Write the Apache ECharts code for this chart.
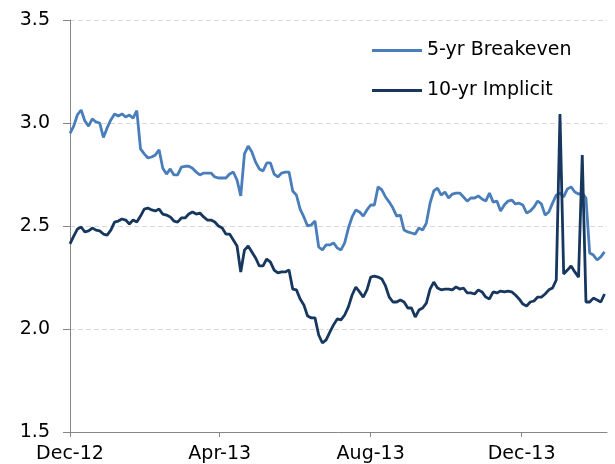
<!DOCTYPE html>
<html>
<head>
<meta charset="utf-8">
<script src="https://cdn.jsdelivr.net/npm/echarts@6/dist/echarts.min.js"></script>
<style>html,body{margin:0;padding:0;background:#fff}#c{width:615px;height:464px}</style>
</head>
<body>
<div id="c"></div>
<script>
// Observations every 3 days starting 1 Dec 2012
var startDate = [2012, 11, 1];
var stepDays = 3;
var seriesNames = ['5-yr Breakeven', '10-yr Implicit'];
var breakeven5 = [
2.95,2.985,3.04,3.063,3.01,2.985,3.02,3.005,3.0,2.93,
2.976,3.015,3.044,3.034,3.044,3.029,3.039,3.024,3.06,2.874,
2.85,2.83,2.835,2.845,2.87,2.78,2.752,2.777,2.748,2.748,
2.786,2.79,2.79,2.78,2.762,2.748,2.757,2.757,2.757,2.738,
2.733,2.733,2.733,2.752,2.762,2.723,2.646,2.85,2.888,2.859,
2.81,2.777,2.767,2.806,2.806,2.752,2.738,2.757,2.762,2.762,
2.67,2.65,2.582,2.544,2.5,2.505,2.524,2.398,2.384,2.408,
2.408,2.418,2.393,2.384,2.418,2.49,2.544,2.578,2.568,2.548,
2.578,2.602,2.602,2.69,2.675,2.641,2.616,2.587,2.548,2.553,
2.48,2.471,2.466,2.461,2.49,2.48,2.514,2.611,2.67,2.684,
2.65,2.665,2.636,2.655,2.66,2.66,2.641,2.621,2.636,2.636,
2.646,2.631,2.621,2.66,2.616,2.621,2.573,2.602,2.621,2.626,
2.607,2.611,2.602,2.563,2.573,2.592,2.621,2.607,2.553,2.568,
2.611,2.65,2.66,2.641,2.68,2.69,2.665,2.655,2.66,2.636,
2.369,2.359,2.335,2.35,2.374
];
var implicit10 = [
2.413,2.451,2.485,2.495,2.471,2.476,2.49,2.48,2.476,2.461,
2.456,2.48,2.519,2.524,2.534,2.529,2.51,2.529,2.519,2.548,
2.582,2.587,2.578,2.573,2.582,2.558,2.553,2.544,2.524,2.519,
2.539,2.539,2.558,2.568,2.558,2.563,2.544,2.529,2.529,2.519,
2.5,2.49,2.461,2.461,2.432,2.403,2.277,2.383,2.403,2.374,
2.345,2.306,2.306,2.34,2.325,2.286,2.272,2.277,2.277,2.286,
2.194,2.19,2.146,2.117,2.063,2.054,2.054,1.971,1.932,1.947,
1.985,2.02,2.049,2.044,2.068,2.107,2.165,2.204,2.18,2.155,
2.19,2.252,2.257,2.252,2.243,2.209,2.155,2.131,2.131,2.141,
2.131,2.102,2.102,2.058,2.092,2.102,2.126,2.194,2.228,2.199,
2.19,2.194,2.194,2.19,2.204,2.194,2.199,2.175,2.175,2.17,
2.19,2.18,2.155,2.146,2.18,2.175,2.184,2.18,2.184,2.18,
2.165,2.146,2.121,2.112,2.131,2.136,2.155,2.155,2.17,2.19,
2.199,2.238,3.044,2.267,2.286,2.306,2.277,2.252,2.845,2.131,
2.131,2.15,2.141,2.131,2.17
];
var tickDates = [[2012, 11, 1], [2013, 3, 1], [2013, 7, 1], [2013, 11, 1]];
var tickLabels = ['Dec-12', 'Apr-13', 'Aug-13', 'Dec-13'];
var axisEnd = [2014, 1, 8];
var yTicks = [1.5, 2.0, 2.5, 3.0, 3.5];

function ts(d) { return new Date(d[0], d[1], d[2]).getTime(); }
var t0 = ts(startDate);
function dateAt(i) { var d = new Date(t0); d.setDate(d.getDate() + i * stepDays); return d.getTime(); }
var d5 = breakeven5.map(function (v, i) { return [dateAt(i), v]; });
var d10 = implicit10.map(function (v, i) { return [dateAt(i), v]; });
var tickTs = tickDates.map(ts);
function labelFor(v) {
  for (var i = 0; i < tickTs.length; i++) if (Math.abs(tickTs[i] - v) < 43200000) return tickLabels[i];
  return '';
}

var FONT = 'DejaVu Sans';
var chart = echarts.init(document.getElementById('c'), null, { renderer: 'canvas' });
chart.setOption({
  animation: false,
  backgroundColor: '#ffffff',
  textStyle: { fontFamily: FONT },
  grid: { left: 70, right: 8, top: 20, bottom: 32, containLabel: false, outerBoundsMode: 'none' },
  legend: {
    orient: 'vertical', left: 372, top: 41, itemGap: 21, padding: 0,
    icon: 'rect', itemWidth: 50, itemHeight: 3, itemTextGap: 5,
    textStyle: { fontFamily: FONT, fontSize: 19, color: '#000' },
    data: seriesNames
  },
  xAxis: {
    type: 'value',
    min: t0, max: ts(axisEnd),
    splitLine: { show: false },
    axisLine: { lineStyle: { color: '#868686', width: 1 } },
    axisTick: { show: true, length: 5, lineStyle: { color: '#868686' }, customValues: tickTs },
    axisLabel: {
      customValues: tickTs, margin: 13,
      fontFamily: FONT, fontSize: 19, color: '#000',
      formatter: labelFor,
      hideOverlap: false
    }
  },
  yAxis: {
    type: 'value', min: yTicks[0], max: yTicks[yTicks.length - 1], interval: 0.5,
    axisLine: { show: true, lineStyle: { color: '#868686', width: 1 } },
    axisTick: { show: true, length: 7, lineStyle: { color: '#868686' } },
    splitLine: { show: true, lineStyle: { color: '#d9d9d9', type: [5, 3], width: 1 } },
    axisLabel: { margin: 20, fontFamily: FONT, fontSize: 19, color: '#000',
      formatter: function (v) { return v.toFixed(1); } }
  },
  series: [
    { name: seriesNames[0], type: 'line', data: d5, showSymbol: false, symbol: 'none',
      lineStyle: { color: '#4a7ebb', width: 2.8 }, itemStyle: { color: '#4a7ebb' } },
    { name: seriesNames[1], type: 'line', data: d10, showSymbol: false, symbol: 'none',
      lineStyle: { color: '#17375e', width: 2.8 }, itemStyle: { color: '#17375e' } }
  ]
});
</script>
</body>
</html>
